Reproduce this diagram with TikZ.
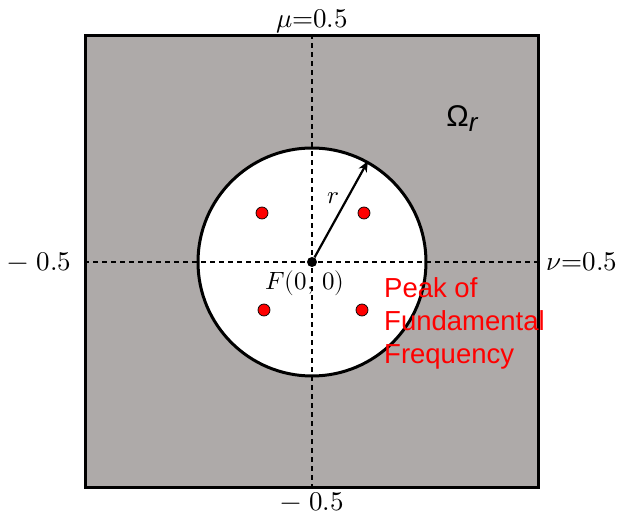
\documentclass[tikz,border=0pt]{standalone}
\usepackage{fontspec}
\usepackage{unicode-math}
\setmathfont{Latin Modern Math}
\usepackage{xcolor}
\usepackage{tikz}
\usetikzlibrary{arrows.meta, positioning}
\newfontfamily\peakfont{Liberation Sans}
\definecolor{regiongray}{RGB}{174,170,169}

\begin{document}
\begin{tikzpicture}[
    x=1pt, y=1pt,
    >=Stealth,
    region/.style={draw, line width=3pt, fill=#1, inner sep=0pt},
    axis/.style={dash pattern=on 5pt off 4pt, line width=1.2pt},
    peak/.style={circle, draw=black, fill=red, line width=0.7pt, inner sep=0pt, minimum size=12pt},
    ticklabel/.style={font=\fontsize{27}{32}\selectfont, inner sep=1pt},
    mathlabel/.style={font=\fontsize{25}{30}\selectfont, inner sep=1pt},
]
    \useasboundingbox (-312,-265) rectangle (307,262);

    \node[region=regiongray, minimum size=452pt] (omega) at (0,0) {};
    \node[region=white, circle, minimum size=228pt] (roi) at (0,0) {};

    \draw[axis] (omega.north) -- (omega.south);
    \draw[axis] (omega.west) -- (omega.east);

    \node[circle, fill=black, inner sep=0pt, minimum size=10pt] (F) at (0,0) {};
    \node[peak] (p1) at (-50,49) {};
    \node[peak] (p2) at (52,49) {};
    \node[peak] (p3) at (-48,-48) {};
    \node[peak] (p4) at (50,-48) {};

    \draw[-{Stealth[length=11pt, width=9pt]}, line width=2.2pt] (F) -- node[mathlabel, pos=0.62, left=6pt] (rlabel) {$r$} (roi.61);

    \node[ticklabel, above=0pt of omega.north] (mu) {$\mu{=}0.5$};
    \node[ticklabel, below=2pt of omega.south] (bottom) {$-\ 0.5$};
    \node[ticklabel, left=12pt of omega.west] (left) {$-\ 0.5$};
    \node[ticklabel, right=6pt of omega.east] (nu) {$\nu{=}0.5$};
    \node[font=\peakfont\fontsize{30}{34}\selectfont, inner sep=0pt] (omegalabel) at (150,143) {Ω\raisebox{-5pt}{\fontsize{26}{30}\selectfont\itshape r}};
    \node[mathlabel, below=2pt of F, xshift=-7pt] (Flabel) {$F(0,\,0)$};

    \node[font=\peakfont\fontsize{27.5}{33}\selectfont, text=red, align=left, anchor=north west, inner sep=0pt] (peaktext) at (72,-15) {Peak of\\Fundamental\\Frequency};
\end{tikzpicture}
\end{document}
